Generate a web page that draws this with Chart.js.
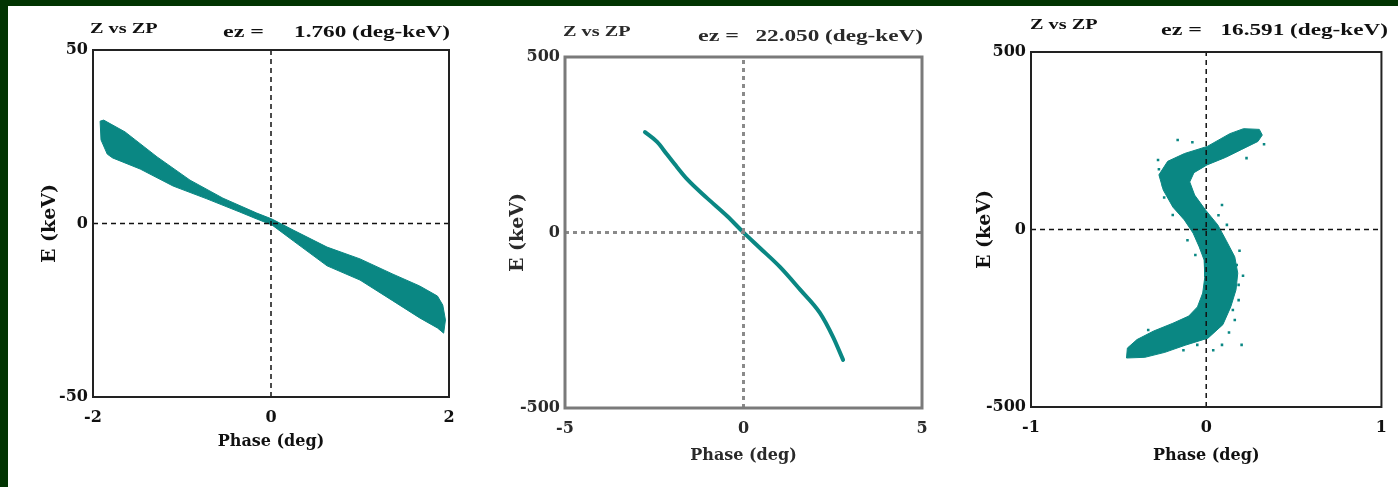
<!DOCTYPE html>
<html>
<head>
<meta charset="utf-8">
<script src="https://cdn.jsdelivr.net/npm/chart.js@4.4.0/dist/chart.umd.min.js"></script>
<style>
  body { margin:0; width:1398px; height:487px; background:#fff; position:relative; overflow:hidden; }
  .edge-top { position:absolute; left:0; top:0; width:1398px; height:6px; background:#023402; }
  .edge-left { position:absolute; left:0; top:0; width:8px; height:487px; background:#023402; }
  .panel { position:absolute; }
</style>
</head>
<body>
<div class="edge-top"></div>
<div class="edge-left"></div>
<div class="panel" style="left:10px;top:8px;width:460px;height:470px"><canvas id="c1"></canvas></div>
<div class="panel" style="left:480px;top:8px;width:460px;height:479px"><canvas id="c2"></canvas></div>
<div class="panel" style="left:940px;top:8px;width:458px;height:479px"><canvas id="c3"></canvas></div>

<script>
/* ---- values ---- */
const p1XTicks = [-2, 0, 2];
const p1YTicks = [-50, 0, 50];
const p1Emit = '1.760 (deg-keV)';
// outline of the particle band (upper edge left->right, lower edge right->left)
const p1Band = [
  [-1.92,29.5],[-1.88,29.8],[-1.64,26.4],[-1.28,19.2],[-0.91,12.5],[-0.54,7.3],[-0.16,3.0],
  [0.01,1.3],[0.25,-1.9],[0.63,-6.8],[1.00,-10.2],[1.37,-14.6],[1.67,-18.0],[1.87,-20.9],
  [1.93,-23.5],[1.96,-27.8],[1.94,-31.6],[1.87,-30.1],[1.67,-27.2],[1.37,-22.3],[1.00,-16.3],
  [0.63,-12.2],[0.25,-5.0],[0.01,-0.4],[-0.16,1.3],[-0.35,3.3],[-0.72,7.1],[-1.10,10.8],
  [-1.47,15.7],[-1.78,18.9],[-1.84,20.0],[-1.91,24.1],[-1.92,29.5]
];

const p2XTicks = [-5, 0, 5];
const p2YTicks = [-500, 0, 500];
const p2Emit = '22.050 (deg-keV)';
const p2Curve = [
  [-2.76,286],[-2.42,258],[-2.14,222],[-1.86,186],[-1.58,152],[-1.02,98],[-0.46,47],
  [-0.01,1],[0.46,-44],[1.02,-98],[1.58,-162],[2.14,-229],[2.51,-298],[2.79,-363]
];

const p3XTicks = [-1, 0, 1];
const p3YTicks = [-500, 0, 500];
const p3Emit = '16.591 (deg-keV)';
const p3Band = [
  [0.303,282],[0.213,284],[0.135,270],[0.006,234],[-0.124,214],[-0.22,192],[-0.27,154],
  [-0.245,111],[-0.19,63],[-0.125,27],[-0.075,-10],[-0.04,-49],[-0.012,-86],[-0.008,-134],
  [-0.02,-179],[-0.05,-218],[-0.10,-244],[-0.19,-264],[-0.30,-286],[-0.395,-310],
  [-0.45,-334],[-0.455,-362],
  [-0.35,-360],[-0.236,-346],[-0.12,-326],[0.01,-306],[0.095,-268],[0.14,-218],[0.17,-170],
  [0.18,-123],[0.163,-77],[0.113,-30],[0.066,13],[-0.004,55],[-0.066,97],[-0.094,134],
  [-0.07,160],[0.005,182],[0.11,203],[0.2,225],[0.295,248],[0.32,266],[0.303,282]
];
const p3Specks = [
  [-0.275,196],[-0.247,125],[-0.191,41],[-0.107,-30],[0.090,69],[0.118,13],[0.174,-100],
  [0.185,-199],[0.163,-255],[0.202,-325],[0.090,-325],[-0.051,-325],[-0.191,-306],
  [-0.331,-283],[-0.062,-72],[0.185,-156],[-0.163,252],[-0.079,246],[0.230,201],[0.152,-227],
  [-0.27,170],[-0.24,90],[0.07,40],[0.19,-60],[0.21,-130],[0.13,-290],[0.04,-340],
  [-0.13,-340],[0.25,262],[0.33,240]
];

const TEAL = '#0a8783';
const pts = arr => arr.map(([x, y]) => ({x, y}));

function makePanel(id, p) {
  const xMin = p.xTicks[0], xMax = p.xTicks[p.xTicks.length - 1];
  const yMin = p.yTicks[0], yMax = p.yTicks[p.yTicks.length - 1];
  const tickFont = {family: 'DejaVu Serif', weight: 'bold', size: 16};

  const datasets = [
    { data: [{x: xMin, y: 0}, {x: xMax, y: 0}], showLine: true, pointRadius: 0,
      borderColor: p.zeroColor, borderWidth: p.zeroWidth, borderDash: p.zeroDash },
    { data: [{x: 0, y: yMin}, {x: 0, y: yMax}], showLine: true, pointRadius: 0,
      borderColor: p.zeroColor, borderWidth: p.zeroWidth, borderDash: p.zeroDash }
  ];
  if (p.band) datasets.push({ data: pts(p.band), showLine: true, fill: 'shape', pointRadius: 0,
    backgroundColor: TEAL, borderColor: TEAL, borderWidth: 1, tension: 0 });
  if (p.curve) datasets.push({ data: pts(p.curve), showLine: true, fill: false, pointRadius: 0,
    borderColor: TEAL, borderWidth: 4, cubicInterpolationMode: 'monotone', borderCapStyle: 'round' });
  if (p.specks) datasets.push({ data: pts(p.specks), showLine: false, pointStyle: 'rect',
    pointRadius: 1.8, backgroundColor: TEAL, borderWidth: 0 });

  const framePlugin = {
    id: 'frame',
    afterDraw(chart) {
      const {ctx, chartArea: a} = chart;
      ctx.save();
      ctx.strokeStyle = p.frameColor;
      ctx.lineWidth = p.frameWidth;
      ctx.strokeRect(a.left, a.top, a.right - a.left, a.bottom - a.top);
      ctx.restore();
    }
  };
  // header line: stretched serif, like the original bitmap
  const headerPlugin = {
    id: 'header',
    afterDraw(chart) {
      const ctx = chart.ctx;
      const put = (txt, x, y, size, sx, align) => {
        ctx.save();
        ctx.translate(x, y);
        ctx.scale(sx, 1);
        ctx.font = 'bold ' + size + 'px "Liberation Serif"';
        ctx.fillStyle = p.textColor;
        ctx.textAlign = align;
        ctx.textBaseline = 'alphabetic';
        ctx.fillText(txt, 0, 0);
        ctx.restore();
      };
      put('Z vs ZP', p.head.zx, p.head.zy, 15, 1.35, 'left');
      put('ez =', p.head.ex, p.head.ey, 16, 1.5, 'left');
      put(p.emit, p.head.vx, p.head.ey, 16, 1.45, 'right');
    }
  };

  new Chart(document.getElementById(id), {
    type: 'scatter',
    data: { datasets },
    options: {
      responsive: true, maintainAspectRatio: false, animation: false,
      layout: { padding: { left: 0, right: p.padRight, top: p.padTop, bottom: 0 } },
      plugins: { legend: { display: false }, tooltip: { enabled: false } },
      scales: {
        x: {
          type: 'linear', min: xMin, max: xMax,
          afterBuildTicks: s => { s.ticks = p.xTicks.map(v => ({value: v})); },
          afterFit: s => { s.height = p.xAxisH; },
          grid: { display: false, drawTicks: false }, border: { display: false },
          ticks: { font: tickFont, color: p.textColor, padding: 11, maxRotation: 0, autoSkip: false,
                   callback: v => String(v) },
          title: { display: true, text: 'Phase (deg)', color: p.textColor,
                   font: {family: 'DejaVu Serif', weight: 'bold', size: 16},
                   padding: { top: 0, bottom: p.xTitlePad } }
        },
        y: {
          type: 'linear', min: yMin, max: yMax,
          afterBuildTicks: s => { s.ticks = p.yTicks.map(v => ({value: v})); },
          afterFit: s => { s.width = p.yAxisW; },
          grid: { display: false, drawTicks: false }, border: { display: false },
          ticks: { font: tickFont, color: p.textColor, padding: 5, autoSkip: false,
                   callback: v => String(v) },
          title: { display: true, text: 'E (keV)', color: p.textColor,
                   font: {family: 'DejaVu Serif', weight: 'bold', size: 19},
                   padding: { top: p.yTitlePad, bottom: 0 } }
        }
      }
    },
    plugins: [framePlugin, headerPlugin]
  });
}

makePanel('c1', {
  xTicks: p1XTicks, yTicks: p1YTicks, band: p1Band, emit: p1Emit,
  padRight: 21, padTop: 42, yAxisW: 83, xAxisH: 81, yTitlePad: 29, xTitlePad: 27,
  zeroColor: '#111', zeroWidth: 1.5, zeroDash: [5, 4], frameColor: '#222', frameWidth: 2,
  textColor: '#111', head: { zx: 80, zy: 25, ex: 213, ey: 29, vx: 440 }
});
makePanel('c2', {
  xTicks: p2XTicks, yTicks: p2YTicks, curve: p2Curve, emit: p2Emit,
  padRight: 18, padTop: 49, yAxisW: 85, xAxisH: 79, yTitlePad: 27, xTitlePad: 22,
  zeroColor: '#8a8a8a', zeroWidth: 3, zeroDash: [4, 4], frameColor: '#7a7a7a', frameWidth: 3,
  textColor: '#2a2a2a', head: { zx: 83, zy: 28, ex: 218, ey: 33, vx: 443 }
});
makePanel('c3', {
  xTicks: p3XTicks, yTicks: p3YTicks, band: p3Band, specks: p3Specks, emit: p3Emit,
  padRight: 11, padTop: 44, yAxisW: 91, xAxisH: 80, yTitlePad: 34, xTitlePad: 22,
  zeroColor: '#111', zeroWidth: 1.5, zeroDash: [5, 4], frameColor: '#222', frameWidth: 2,
  textColor: '#111', head: { zx: 90, zy: 21, ex: 221, ey: 27, vx: 448 }
});
</script>
</body>
</html>
